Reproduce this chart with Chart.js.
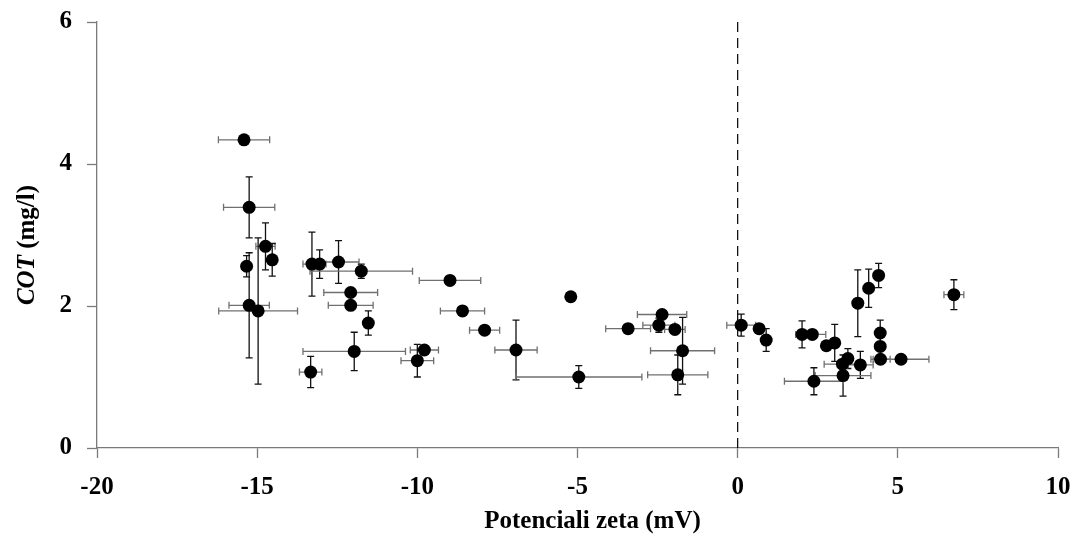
<!DOCTYPE html>
<html>
<head>
<meta charset="utf-8">
<script src="https://cdn.jsdelivr.net/npm/chart.js@4/dist/chart.umd.min.js"></script>
<style>
  html, body { margin: 0; padding: 0; background: #fff; }
  #wrap { width: 1076px; height: 538px; }
</style>
</head>
<body>
<div id="wrap"><canvas id="c" width="1076" height="538"></canvas></div>
<script>
// Zeta potential (mV) and TOC (mg/l) per sample, with standard deviations
const zeta = [-15.41, -15.25, -14.74, -14.53, -15.33, -15.25, -14.97, -13.29, -13.05, -12.46,
              -11.75, -12.08, -12.08, -11.53, -11.97, -13.33, -9.78, -10.00, -8.98, -8.59,
              -7.90, -6.92, -5.21, -4.96, -3.42, -2.36, -2.46, -1.96, -1.72, -1.87,
              0.11, 0.67, 0.89, 2.01, 2.33, 2.77, 3.03, 3.44, 3.27, 3.83,
              3.29, 2.38, 3.75, 4.09, 4.40, 4.45, 4.45, 4.46, 5.10, 6.75];
const cot = [4.34, 3.39, 2.84, 2.65, 2.56, 2.01, 1.93, 2.59, 2.59, 2.62,
             2.49, 2.19, 2.01, 1.76, 1.36, 1.07, 1.38, 1.23, 2.36, 1.93,
             1.66, 1.38, 2.13, 1.00, 1.68, 1.88, 1.73, 1.67, 1.37, 1.03,
             1.73, 1.68, 1.52, 1.60, 1.60, 1.44, 1.48, 1.26, 1.18, 1.17,
             1.02, 0.94, 2.04, 2.25, 2.43, 1.62, 1.43, 1.25, 1.25, 2.16];
const zetaErr = [0.80, 0.80, 0.30, 0.13, 0.15, 0.63, 1.23, 0.28, 0.20, 0.64,
                 1.60, 0.84, 0.70, 0.00, 1.60, 0.35, 0.44, 0.51, 0.96, 0.69,
                 0.47, 0.66, 0.00, 1.97, 0.70, 0.77, 0.50, 0.32, 1.00, 0.94,
                 0.45, 0.00, 0.00, 0.20, 0.42, 0.00, 0.00, 0.00, 0.57, 0.40,
                 0.87, 0.92, 0.00, 0.00, 0.00, 0.00, 0.00, 0.30, 0.87, 0.31];
const cotErr = [0.00, 0.43, 0.33, 0.23, 0.15, 0.74, 1.03, 0.45, 0.20, 0.30,
                0.10, 0.00, 0.00, 0.17, 0.27, 0.22, 0.00, 0.23, 0.00, 0.00,
                0.00, 0.42, 0.00, 0.16, 0.00, 0.00, 0.10, 0.00, 0.47, 0.28,
                0.155, 0.00, 0.16, 0.19, 0.00, 0.00, 0.26, 0.14, 0.00, 0.19,
                0.29, 0.19, 0.47, 0.27, 0.17, 0.18, 0.00, 0.00, 0.00, 0.21];
const xTicks = [-20, -15, -10, -5, 0, 5, 10];
const yTicks = [0, 2, 4, 6];

const points = zeta.map((x, i) => ({ x: x, y: cot[i] }));
const serif = '"Liberation Serif", "Times New Roman", serif';
const axisGrey = '#7a7a7a';

// Horizontal and vertical error bars, drawn beneath the markers
const errorBars = {
  id: 'errorBars',
  beforeDatasetsDraw(chart) {
    const xs = chart.scales.x, ys = chart.scales.y, ctx = chart.ctx;
    const cap = 3.5;
    ctx.save();
    ctx.lineWidth = 1.3;
    zeta.forEach((v, i) => {
      const px = xs.getPixelForValue(v);
      const py = ys.getPixelForValue(cot[i]);
      if (zetaErr[i] > 0) {
        const l = xs.getPixelForValue(v - zetaErr[i]);
        const r = xs.getPixelForValue(v + zetaErr[i]);
        ctx.strokeStyle = '#707070';
        ctx.beginPath();
        ctx.moveTo(l, py); ctx.lineTo(r, py);
        ctx.moveTo(l, py - cap); ctx.lineTo(l, py + cap);
        ctx.moveTo(r, py - cap); ctx.lineTo(r, py + cap);
        ctx.stroke();
      }
      if (cotErr[i] > 0) {
        const t = ys.getPixelForValue(cot[i] + cotErr[i]);
        const b = ys.getPixelForValue(cot[i] - cotErr[i]);
        ctx.strokeStyle = '#111';
        ctx.beginPath();
        ctx.moveTo(px, t); ctx.lineTo(px, b);
        ctx.moveTo(px - cap, t); ctx.lineTo(px + cap, t);
        ctx.moveTo(px - cap, b); ctx.lineTo(px + cap, b);
        ctx.stroke();
      }
    });
    ctx.restore();
  }
};

// Axis titles (the y title mixes italic and upright text)
const axisTitles = {
  id: 'axisTitles',
  afterDraw(chart) {
    const ctx = chart.ctx, area = chart.chartArea;
    ctx.save();
    ctx.fillStyle = '#000';
    ctx.textBaseline = 'alphabetic';
    ctx.textAlign = 'center';
    ctx.font = 'bold 25px ' + serif;
    ctx.fillText('Potenciali zeta (mV)', (area.left + area.right) / 2 + 15, 528);

    const italicFont = 'italic bold 25px ' + serif;
    const boldFont = 'bold 25px ' + serif;
    ctx.font = italicFont;
    const w1 = ctx.measureText('COT').width;
    ctx.font = boldFont;
    const w2 = ctx.measureText(' (mg/l)').width;
    ctx.translate(34, 245);
    ctx.rotate(-Math.PI / 2);
    ctx.textAlign = 'left';
    const start = -(w1 + w2) / 2;
    ctx.font = italicFont;
    ctx.fillText('COT', start, 0);
    ctx.font = boldFont;
    ctx.fillText(' (mg/l)', start + w1, 0);
    ctx.restore();
  }
};

const tickFont = { family: serif, size: 25, weight: 'bold' };

// Fixed axis box sizes; edge labels must not push the plot area around
function fixBox(size, key) {
  return s => {
    s[key] = size;
    s.paddingTop = 0; s.paddingBottom = 0; s.paddingLeft = 0; s.paddingRight = 0;
  };
}

new Chart(document.getElementById('c'), {
  data: {
    datasets: [
      {
        type: 'scatter',
        data: points,
        backgroundColor: '#000',
        borderColor: '#000',
        borderWidth: 0,
        pointRadius: 6.5,
        pointHoverRadius: 6.5
      },
      {
        type: 'line',
        data: [{ x: 0, y: 0 }, { x: 0, y: 6 }],
        borderColor: '#000',
        borderWidth: 1.2,
        borderDash: [10, 6],
        pointRadius: 0,
        fill: false
      }
    ]
  },
  options: {
    responsive: false,
    animation: false,
    devicePixelRatio: 1,
    layout: { padding: { top: 22, right: 18, left: 0, bottom: 0 } },
    plugins: { legend: { display: false }, tooltip: { enabled: false } },
    scales: {
      x: {
        type: 'linear',
        min: -20, max: 10,
        afterBuildTicks: s => { s.ticks = xTicks.map(v => ({ value: v })); },
        afterFit: fixBox(90, 'height'),
        grid: { drawOnChartArea: false, drawTicks: true, tickLength: 10, tickColor: axisGrey, tickWidth: 1.3 },
        border: { display: true, color: axisGrey, width: 1.3 },
        ticks: { font: tickFont, color: '#000', padding: 15, maxRotation: 0, callback: v => String(v) }
      },
      y: {
        type: 'linear',
        min: 0, max: 6,
        afterBuildTicks: s => { s.ticks = yTicks.map(v => ({ value: v })); },
        afterFit: fixBox(97, 'width'),
        grid: { drawOnChartArea: false, drawTicks: true, tickLength: 10, tickColor: axisGrey, tickWidth: 1.3 },
        border: { display: true, color: axisGrey, width: 1.3 },
        ticks: { font: tickFont, color: '#000', padding: 15, callback: v => String(v) }
      }
    }
  },
  plugins: [errorBars, axisTitles]
});
</script>
</body>
</html>
